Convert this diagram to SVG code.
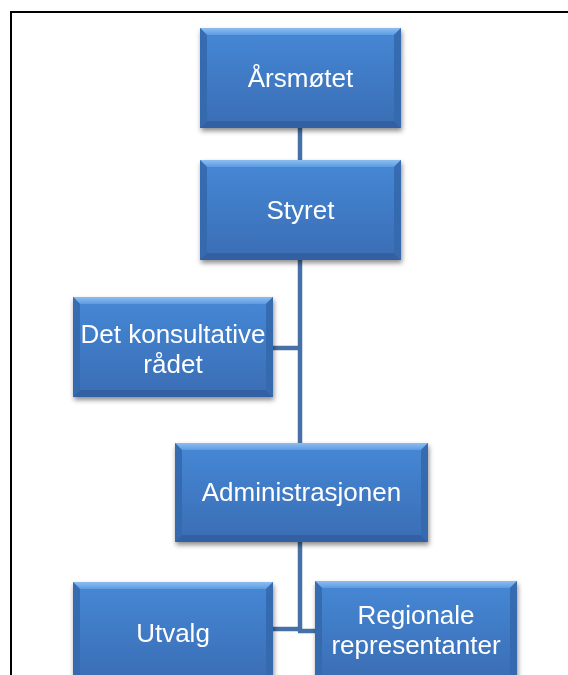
<svg xmlns="http://www.w3.org/2000/svg" width="568" height="675" viewBox="0 0 568 675">
<style>
  .lbl { font-family: "Liberation Sans", Arial, sans-serif; font-size: 26px; fill: #ffffff; text-anchor: middle; }
  .body { fill: url(#bodyGrad); }
  .bt { fill: url(#topGrad); }
  .bb { fill: #2f5f9f; opacity: 0.85; }
  .bs { fill: #3569ad; opacity: 0.9; }
  .conn { stroke: #4670a6; stroke-width: 4.5; fill: none; }
</style>
<defs>
  <linearGradient id="bodyGrad" x1="0" y1="0" x2="0" y2="1">
    <stop offset="0" stop-color="#4688d6"/>
    <stop offset="1" stop-color="#3a6db4"/>
  </linearGradient>
  <linearGradient id="topGrad" x1="0" y1="0" x2="0" y2="1">
    <stop offset="0" stop-color="#8dbdf0"/>
    <stop offset="1" stop-color="#5b9be2"/>
  </linearGradient>
  <filter id="shadow" x="-10%" y="-10%" width="125%" height="130%">
    <feDropShadow dx="1" dy="3" stdDeviation="2.5" flood-color="#000" flood-opacity="0.45"/>
  </filter>
</defs>

<rect x="0" y="0" width="568" height="675" fill="#ffffff"/>
<path d="M11,676 V12 H569" fill="none" stroke="#000" stroke-width="2"/>

<g id="connectors">
  <line class="conn" x1="300" y1="128" x2="300" y2="632"/>
  <line class="conn" x1="273" y1="348" x2="300" y2="348"/>
  <line class="conn" x1="273" y1="629" x2="300" y2="629"/>
  <line class="conn" x1="298" y1="631" x2="315" y2="631"/>
</g>

<g id="aarsmotet" filter="url(#shadow)">
  <rect class="body" x="200" y="28" width="201" height="100"/>
  <polygon class="bt" points="200,28 401,28 394,35 207,35"/>
  <polygon class="bb" points="200,128 401,128 394,121 207,121"/>
  <polygon class="bs" points="200,28 207,35 207,121 200,128"/>
  <polygon class="bs" points="401,28 394,35 394,121 401,128"/>
  <text class="lbl" x="300.5" y="87">Årsmøtet</text>
</g>

<g id="styret" filter="url(#shadow)">
  <rect class="body" x="200" y="160" width="201" height="100"/>
  <polygon class="bt" points="200,160 401,160 394,167 207,167"/>
  <polygon class="bb" points="200,260 401,260 394,253 207,253"/>
  <polygon class="bs" points="200,160 207,167 207,253 200,260"/>
  <polygon class="bs" points="401,160 394,167 394,253 401,260"/>
  <text class="lbl" x="300.5" y="219">Styret</text>
</g>

<g id="konsultative" filter="url(#shadow)">
  <rect class="body" x="73" y="297" width="200" height="100"/>
  <polygon class="bt" points="73,297 273,297 266,304 80,304"/>
  <polygon class="bb" points="73,397 273,397 266,390 80,390"/>
  <polygon class="bs" points="73,297 80,304 80,390 73,397"/>
  <polygon class="bs" points="273,297 266,304 266,390 273,397"/>
  <text class="lbl" x="173" y="343">Det konsultative</text>
  <text class="lbl" x="173" y="373">rådet</text>
</g>

<g id="administrasjonen" filter="url(#shadow)">
  <rect class="body" x="175" y="443" width="253" height="99"/>
  <polygon class="bt" points="175,443 428,443 421,450 182,450"/>
  <polygon class="bb" points="175,542 428,542 421,535 182,535"/>
  <polygon class="bs" points="175,443 182,450 182,535 175,542"/>
  <polygon class="bs" points="428,443 421,450 421,535 428,542"/>
  <text class="lbl" x="301.5" y="501">Administrasjonen</text>
</g>

<g id="utvalg" filter="url(#shadow)">
  <rect class="body" x="73" y="582" width="200" height="100"/>
  <polygon class="bt" points="73,582 273,582 266,589 80,589"/>
  <polygon class="bs" points="73,582 80,589 80,682 73,682"/>
  <polygon class="bs" points="273,582 266,589 266,682 273,682"/>
  <text class="lbl" x="173" y="642">Utvalg</text>
</g>

<g id="regionale" filter="url(#shadow)">
  <rect class="body" x="315" y="581" width="202" height="100"/>
  <polygon class="bt" points="315,581 517,581 510,588 322,588"/>
  <polygon class="bs" points="315,581 322,588 322,681 315,681"/>
  <polygon class="bs" points="517,581 510,588 510,681 517,681"/>
  <text class="lbl" x="416" y="624">Regionale</text>
  <text class="lbl" x="416" y="654">representanter</text>
</g>
</svg>
